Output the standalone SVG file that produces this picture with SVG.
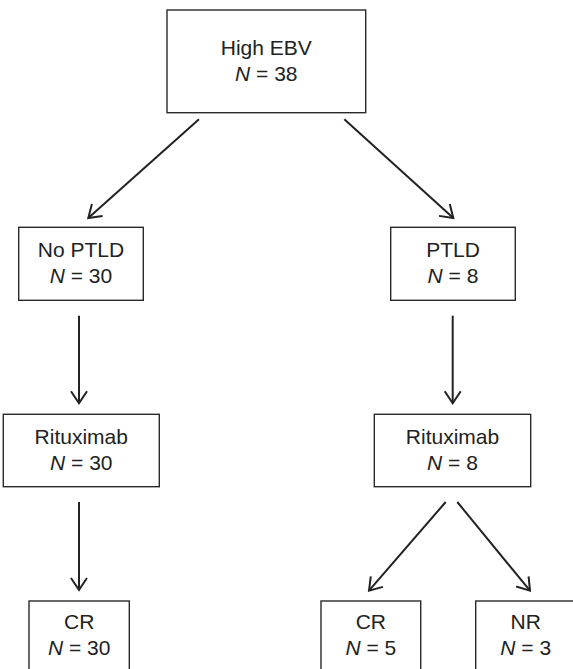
<svg xmlns="http://www.w3.org/2000/svg" width="573" height="669" viewBox="0 0 573 669">
<style>
.box{fill:#fff;stroke:#2a2a2a;stroke-width:1.4}
.t{font-family:"Liberation Sans",Arial,Helvetica,sans-serif;font-size:21px;fill:#222;text-anchor:middle}
.i{font-style:italic}
.c{stroke:#222;stroke-width:2;fill:none;marker-end:url(#ah)}
</style>
<defs>
<marker id="ah" markerUnits="userSpaceOnUse" markerWidth="30" markerHeight="30" refX="0" refY="0" orient="auto" overflow="visible">
<path d="M-12,-8 L0,0 L-12,8" fill="none" stroke="#222" stroke-width="2" stroke-linejoin="miter"/>
</marker>
</defs>
<rect width="573" height="669" fill="#fff"/>
<g id="connectors">
<line class="c" x1="199" y1="119.3" x2="88.3" y2="218"/>
<line class="c" x1="344.3" y1="119.3" x2="453.3" y2="218"/>
<line class="c" x1="79" y1="315.7" x2="79" y2="403.3"/>
<line class="c" x1="452.7" y1="315.7" x2="452.7" y2="403.3"/>
<line class="c" x1="79" y1="502" x2="79" y2="590"/>
<line class="c" x1="445.7" y1="502" x2="369" y2="590.7"/>
<line class="c" x1="457.3" y1="502" x2="530" y2="590.7"/>
</g>
<g id="high-ebv">
<rect class="box" x="167" y="10" width="198.7" height="102.7"/>
<text class="t" x="266.3" y="55">High EBV</text>
<text class="t" x="266.3" y="81"><tspan class="i">N</tspan> = 38</text>
</g>
<g id="no-ptld">
<rect class="box" x="18.7" y="227.3" width="124.6" height="73"/>
<text class="t" x="81" y="257.3">No PTLD</text>
<text class="t" x="81" y="283.3"><tspan class="i">N</tspan> = 30</text>
</g>
<g id="ptld">
<rect class="box" x="390.7" y="227.3" width="124.6" height="73"/>
<text class="t" x="453" y="257.3">PTLD</text>
<text class="t" x="453" y="283.3"><tspan class="i">N</tspan> = 8</text>
</g>
<g id="rituximab-left">
<rect class="box" x="3.3" y="414.3" width="156" height="72.4"/>
<text class="t" x="81.3" y="444">Rituximab</text>
<text class="t" x="81.3" y="470"><tspan class="i">N</tspan> = 30</text>
</g>
<g id="rituximab-right">
<rect class="box" x="374.3" y="414.3" width="156.4" height="72.4"/>
<text class="t" x="452.5" y="444">Rituximab</text>
<text class="t" x="452.5" y="470"><tspan class="i">N</tspan> = 8</text>
</g>
<g id="cr-left">
<rect class="box" x="29" y="601" width="100.3" height="73"/>
<text class="t" x="79.2" y="629">CR</text>
<text class="t" x="79.2" y="655"><tspan class="i">N</tspan> = 30</text>
</g>
<g id="cr-right">
<rect class="box" x="321" y="601" width="99.7" height="73"/>
<text class="t" x="370.8" y="629">CR</text>
<text class="t" x="370.8" y="655"><tspan class="i">N</tspan> = 5</text>
</g>
<g id="nr">
<rect class="box" x="475.7" y="601" width="100" height="73"/>
<text class="t" x="525.7" y="629">NR</text>
<text class="t" x="525.7" y="655"><tspan class="i">N</tspan> = 3</text>
</g>
</svg>
